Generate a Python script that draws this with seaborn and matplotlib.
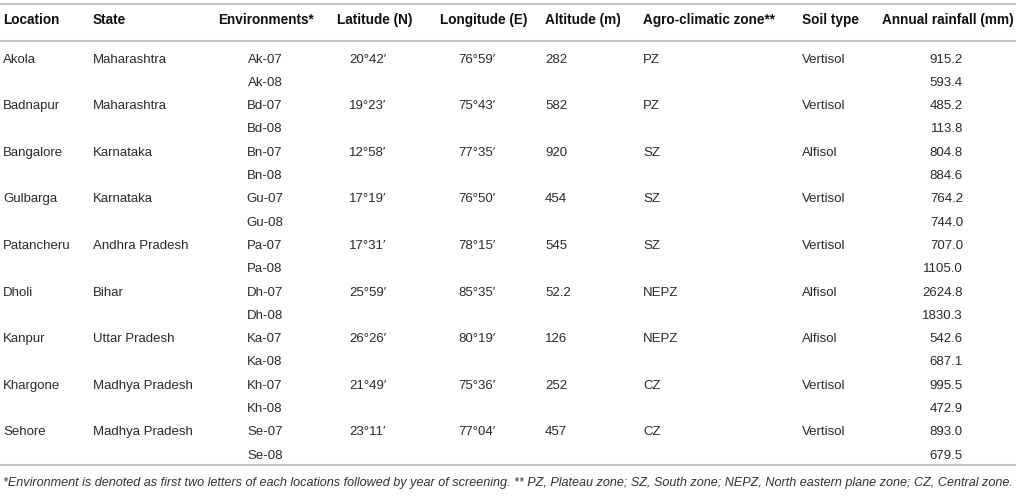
import matplotlib
matplotlib.use("Agg")
import matplotlib.pyplot as plt
import seaborn as sns

# table contents
locations = ["Akola", "Badnapur", "Bangalore", "Gulbarga", "Patancheru",
             "Dholi", "Kanpur", "Khargone", "Sehore"]
states = ["Maharashtra", "Maharashtra", "Karnataka", "Karnataka", "Andhra Pradesh",
          "Bihar", "Uttar Pradesh", "Madhya Pradesh", "Madhya Pradesh"]
env_codes = ["Ak", "Bd", "Bn", "Gu", "Pa", "Dh", "Ka", "Kh", "Se"]
years = ["07", "08"]
latitude = ["20°42′", "19°23′", "12°58′", "17°19′", "17°31′",
            "25°59′", "26°26′", "21°49′", "23°11′"]
longitude = ["76°59′", "75°43′", "77°35′", "76°50′", "78°15′",
             "85°35′", "80°19′", "75°36′", "77°04′"]
altitude = [282, 582, 920, 454, 545, 52.2, 126, 252, 457]
zones = ["PZ", "PZ", "SZ", "SZ", "SZ", "NEPZ", "NEPZ", "CZ", "CZ"]
soils = ["Vertisol", "Vertisol", "Alfisol", "Vertisol", "Vertisol",
         "Alfisol", "Alfisol", "Vertisol", "Vertisol"]
rainfall = [915.2, 593.4, 485.2, 113.8, 804.8, 884.6, 764.2, 744.0, 707.0,
            1105.0, 2624.8, 1830.3, 542.6, 687.1, 995.5, 472.9, 893.0, 679.5]

headers = ["Location", "State", "Environments*", "Latitude (N)", "Longitude (E)",
           "Altitude (m)", "Agro-climatic zone**", "Soil type", "Annual rainfall (mm)"]
footnote = ("*Environment is denoted as first two letters of each locations followed by "
            "year of screening. ** PZ, Plateau zone; SZ, South zone; NEPZ, North eastern "
            "plane zone; CZ, Central zone.")

# layout (pixel space)
header_x = [(3, "left"), (93, "left"), (266, "center"), (375, "center"), (484, "center"),
            (545, "left"), (643, "left"), (802, "left"), (882, "left")]
data_x = [(3, "left"), (93, "left"), (265, "center"), (368, "center"), (477, "center"),
          (545, "left"), (643, "left"), (802, "left"), (963, "right")]
row0, row_h = 59.5, 23.3
header_y = 20

sns.set_theme(style="white")
plt.rcParams["font.family"] = ["Liberation Sans", "DejaVu Sans"]

fig = plt.figure(figsize=(10.16, 5.01), dpi=100)
ax = fig.add_axes([0, 0, 1, 1])
ax.set_xlim(0, 1016)
ax.set_ylim(501, 0)
ax.axis("off")

line_kw = dict(color="#c4c4c4", linewidth=1.5)
ax.hlines([3.5, 40.5, 464.5], 0, 1016, **line_kw)

for (x, ha), h in zip(header_x, headers):
    ax.text(x, header_y, h, ha=ha, va="center", fontsize=9.8,
            fontweight="bold", color="#111111")

txt_kw = dict(va="center", fontsize=9.5, color="#2a2a2a")
for i in range(len(locations)):
    y = row0 + 2 * i * row_h
    main = [locations[i], states[i], None, latitude[i], longitude[i],
            f"{altitude[i]:g}", zones[i], soils[i], None]
    for col, val in enumerate(main):
        if val is not None:
            x, ha = data_x[col]
            ax.text(x, y, val, ha=ha, **txt_kw)
    for k, yr in enumerate(years):
        yy = y + k * row_h
        x, ha = data_x[2]
        ax.text(x, yy, f"{env_codes[i]}-{yr}", ha=ha, **txt_kw)
        x, ha = data_x[8]
        ax.text(x, yy, f"{rainfall[2 * i + k]:.1f}", ha=ha, **txt_kw)

ax.text(3, 483, footnote, ha="left", va="center", fontsize=9.1,
        fontstyle="italic", color="#333333")

fig.savefig("out.png", dpi=100)
